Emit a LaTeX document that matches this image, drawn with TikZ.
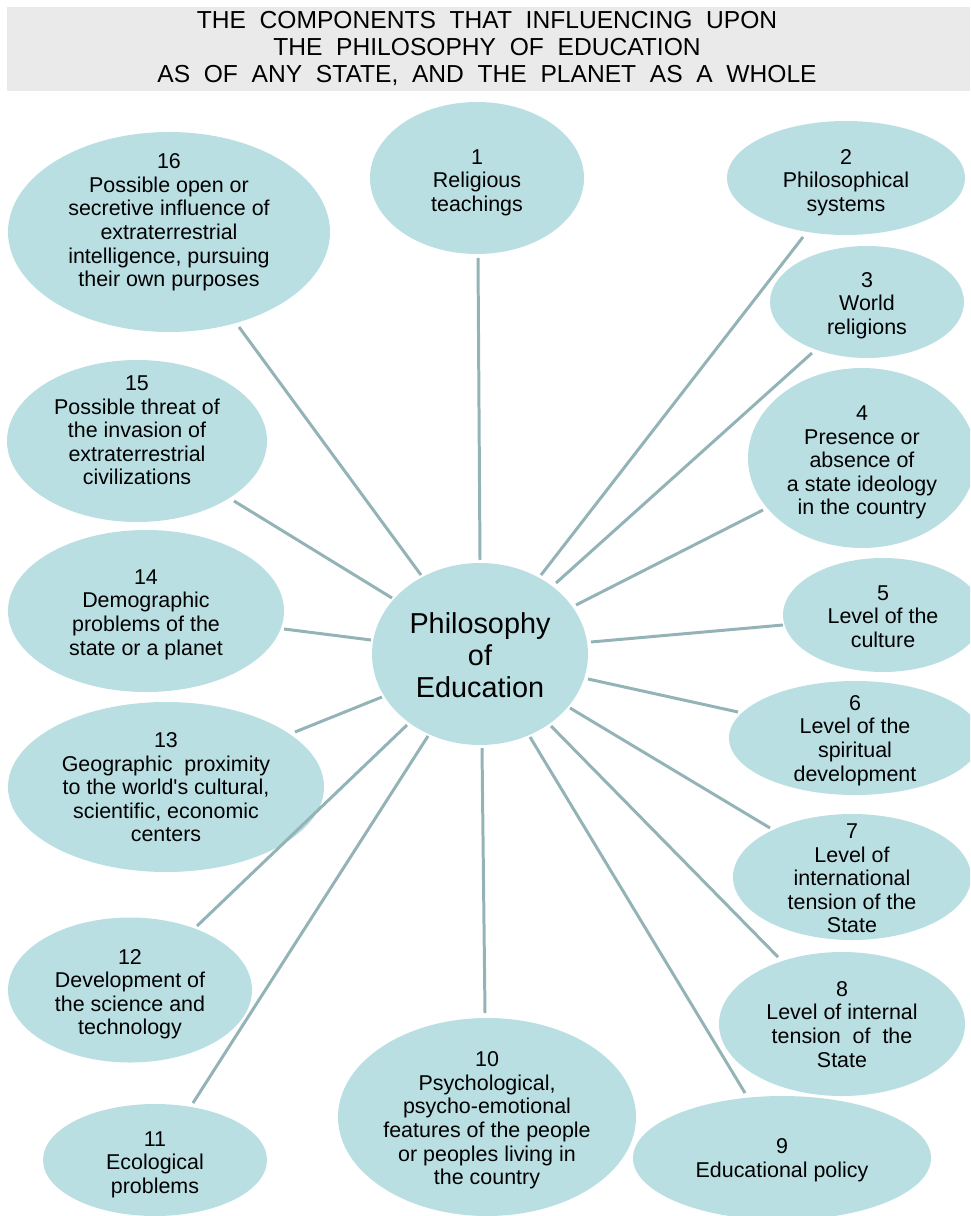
\documentclass[tikz,border=0pt]{standalone}
\usepackage{fontspec}
\setmainfont{Liberation Sans}[Ligatures=TeXOff]
\usetikzlibrary{shapes.geometric}
\definecolor{bubfill}{RGB}{185,223,227}
\definecolor{conncol}{RGB}{147,179,183}
\definecolor{bandcol}{RGB}{234,234,234}
\newlength\pxu \setlength\pxu{0.02cm}
\newcommand{\tx}[2]{\makebox[0pt]{\smash{\raisebox{#1}{\begin{tabular}{@{}c@{}}#2\end{tabular}}}}}
\begin{document}
\begin{tikzpicture}[x=0.02cm,y=-0.02cm,
  bub/.style={ellipse, fill=bubfill, draw=none, inner sep=0pt, outer sep=0pt,
    font=\fontsize{12.2pt}{13.4pt}\selectfont},
  conn/.style={draw=conncol, line width=1.7pt},
  titletext/.style={font=\fontsize{14pt}{15.6pt}\selectfont, align=center, inner sep=0pt}]
\useasboundingbox (0,0) rectangle (970,1216);
\clip (0,0) rectangle (970,1216);
\fill[bandcol] (7,7) rectangle (970,91);
\node[titletext] (title) at (487,48.5) {THE~~COMPONENTS~~THAT~~INFLUENCING~~UPON\\THE~~PHILOSOPHY~~OF~~EDUCATION\\AS~~OF~~ANY~~STATE,~~AND~~THE~~PLANET~~AS~~A~~WHOLE};

% ellipses
\node[bub, minimum width=216\pxu, minimum height=182\pxu, font=\fontsize{16.4pt}{18.2pt}\selectfont] (ctr) at (480,654) {\tx{-7pt}{Philosophy\\of\\Education}};
\node[bub, minimum width=214\pxu, minimum height=152\pxu] (n1) at (477,178) {\tx{-5.8pt}{1\\Religious\\teachings}};
\node[bub, minimum width=238\pxu, minimum height=114\pxu] (n2) at (846,178) {\tx{-5.8pt}{2\\Philosophical\\systems}};
\node[bub, minimum width=194\pxu, minimum height=112\pxu] (n3) at (867,302) {\tx{-5.3pt}{3\\World\\religions}};
\node[bub, minimum width=228\pxu, minimum height=180\pxu] (n4) at (862,458) {\tx{-5.8pt}{4\\Presence or\\absence of\\a state ideology\\in the country}};
\node[bub, minimum width=200\pxu, minimum height=114\pxu] (n5) at (883,615) {\tx{-5.3pt}{5\\Level of the\\culture}};
\node[bub, minimum width=252\pxu, minimum height=114\pxu] (n6) at (855,738) {\tx{-4.7pt}{6\\Level of the\\spiritual\\development}};
\node[bub, minimum width=238\pxu, minimum height=126\pxu] (n7) at (852,877) {\tx{-5.3pt}{7\\Level of\\international\\tension of the\\State}};
\node[bub, minimum width=246\pxu, minimum height=144\pxu] (n8) at (842,1024) {\tx{-4.7pt}{8\\Level of internal\\tension~~of~~the\\State}};
\node[bub, minimum width=298\pxu, minimum height=124\pxu] (n9) at (782,1158) {\tx{-4.7pt}{9\\Educational policy}};
\node[bub, minimum width=298\pxu, minimum height=198\pxu] (n10) at (487,1117) {\tx{-5.3pt}{10\\Psychological,\\psycho-emotional\\features of the people\\or peoples living in\\the country}};
\node[bub, minimum width=224\pxu, minimum height=112\pxu] (n11) at (155,1160) {\tx{-5.8pt}{11\\Ecological\\problems}};
\node[bub, minimum width=244\pxu, minimum height=145\pxu] (n12) at (130,990) {\tx{-5.8pt}{12\\Development of\\the science and\\technology}};
\node[bub, minimum width=316\pxu, minimum height=170\pxu] (n13) at (166,787) {\tx{-4.7pt}{13\\Geographic~~proximity\\to the world's cultural,\\scientific, economic\\centers}};
\node[bub, minimum width=276\pxu, minimum height=162\pxu] (n14) at (146,611) {\tx{-5.3pt}{14\\Demographic\\problems of the\\state or a planet}};
\node[bub, minimum width=260\pxu, minimum height=162\pxu] (n15) at (137,441) {\tx{1.5pt}{15\\Possible threat of\\the invasion of\\extraterrestrial\\civilizations}};
\node[bub, minimum width=322\pxu, minimum height=200\pxu] (n16) at (169,232) {\tx{2.1pt}{16\\Possible open or\\secretive influence of\\extraterrestrial\\intelligence, pursuing\\their own purposes}};

% connector end points
\coordinate (a1) at (480,560);  \coordinate (b1) at (478,258);
\coordinate (a2) at (541,575);  \coordinate (b2) at (803,237);
\coordinate (a3) at (556,583);  \coordinate (b3) at (812,353);
\coordinate (a4) at (576,605);  \coordinate (b4) at (763,510);
\coordinate (a5) at (591,642);  \coordinate (b5) at (783,625);
\coordinate (a6) at (588,679);  \coordinate (b6) at (738,712);
\coordinate (a7) at (570,708);  \coordinate (b7) at (770,828);
\coordinate (a8) at (551,726);  \coordinate (b8) at (778,957);
\coordinate (a9) at (530,737);  \coordinate (b9) at (745,1093);
\coordinate (a10) at (482,748); \coordinate (b10) at (485,1013);
\coordinate (a11) at (428,736); \coordinate (b11) at (193,1103);
\coordinate (a12) at (407,725); \coordinate (b12) at (197,926);
\coordinate (a13) at (382,697); \coordinate (b13) at (295,732);
\coordinate (a14) at (371,640); \coordinate (b14) at (284,629);
\coordinate (a15) at (392,598); \coordinate (b15) at (234,501);
\coordinate (a16) at (421,575); \coordinate (b16) at (239,327);

\foreach \i in {1,...,16}{\draw[conn] (a\i) -- (b\i);}
\end{tikzpicture}
\end{document}
